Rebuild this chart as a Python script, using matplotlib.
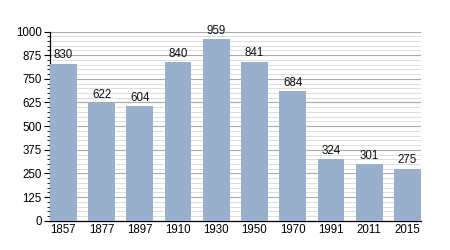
import matplotlib
matplotlib.use("Agg")
import matplotlib.pyplot as plt
from matplotlib.ticker import MultipleLocator

years = ["1857", "1877", "1897", "1910", "1930", "1950", "1970", "1991", "2011", "2015"]
population = [830, 622, 604, 840, 959, 841, 684, 324, 301, 275]
yticks = [0, 125, 250, 375, 500, 625, 750, 875, 1000]

plt.rcParams['font.family'] = ['Liberation Sans', 'DejaVu Sans']

fig = plt.figure(figsize=(4.5, 2.5), dpi=100)
ax = fig.add_axes([0.111, 0.117, 0.824, 0.757])

x = list(range(len(years)))
ax.bar(x, population, width=0.7, color="#98b0cb", zorder=3)
for xi, v in zip(x, population):
    ax.text(xi, v + 12, str(v), ha="center", va="bottom", fontsize=8.3, color="#111111", zorder=4)

ax.set_xlim(-0.35, len(years) - 0.65)
ax.set_ylim(0, 1000)
ax.set_xticks(x)
ax.set_xticklabels(years, fontsize=8.3)
ax.set_yticks(yticks)
ax.set_yticklabels([str(t) for t in yticks], fontsize=8.3)
ax.yaxis.set_minor_locator(MultipleLocator(25))

ax.grid(axis="y", which="major", color="#aaaaaa", linewidth=0.8, zorder=1)
ax.grid(axis="y", which="minor", color="#dddddd", linewidth=0.7, zorder=1)
ax.set_axisbelow(True)

for s in ["top", "right"]:
    ax.spines[s].set_visible(False)
ax.spines["left"].set_linewidth(0.9)
ax.spines["bottom"].set_linewidth(0.9)
ax.tick_params(axis="y", which="major", length=4, width=0.8, pad=2)
ax.tick_params(axis="y", which="minor", length=2, width=0.6)
ax.tick_params(axis="x", length=0, pad=2)

fig.savefig("out.png", dpi=100)
